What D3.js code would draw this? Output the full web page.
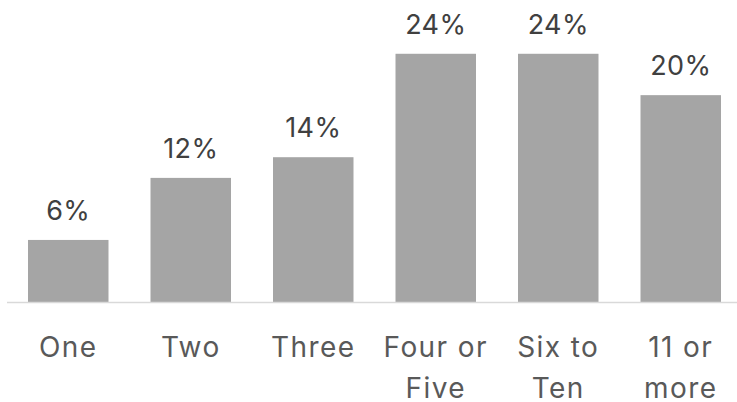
<!DOCTYPE html>
<html>
<head>
<meta charset="utf-8">
<script src="https://cdn.jsdelivr.net/npm/d3@7"></script>
<style>
  html, body { margin: 0; padding: 0; background: #fff; }
  svg { display: block; }
  text { font-family: Inter, "Noto Sans", sans-serif; }
</style>
</head>
<body>
<svg id="chart" width="737" height="402"></svg>
<script>
// Share of respondents by count group
const categories = ["One", "Two", "Three", "Four or Five", "Six to Ten", "11 or more"];
const categoryLines = [["One"], ["Two"], ["Three"], ["Four or", "Five"], ["Six to", "Ten"], ["11 or", "more"]];
const values = [6, 12, 14, 24, 24, 20];

const width = 737, height = 402;
const baseline = 302;

const svg = d3.select("#chart");

const x = d3.scaleBand()
  .domain(categories)
  .range([7, 742])
  .paddingInner(0.343)
  .paddingOuter(0.1715);

const y = d3.scaleLinear()
  .domain([0, 29.2])
  .range([baseline, 0]);

// bars
svg.append("g")
  .selectAll("rect")
  .data(values)
  .join("rect")
  .attr("x", (d, i) => x(categories[i]))
  .attr("width", x.bandwidth())
  .attr("y", d => y(d))
  .attr("height", d => y(0) - y(d))
  .attr("fill", "#a5a5a5");

// baseline axis
svg.append("line")
  .attr("x1", 7).attr("x2", 737)
  .attr("y1", baseline + 0.5).attr("y2", baseline + 0.5)
  .attr("stroke", "#d9d9d9")
  .attr("stroke-width", 1.5);

// value labels
svg.append("g")
  .selectAll("text")
  .data(values)
  .join("text")
  .attr("x", (d, i) => x(categories[i]) + x.bandwidth() / 2)
  .attr("y", d => y(d) - 20)
  .attr("text-anchor", "middle")
  .attr("font-size", 27)
  .attr("letter-spacing", 0.4)
  .attr("fill", "#404040")
  .text(d => d + "%");

// category labels
const cat = svg.append("g")
  .selectAll("text")
  .data(categories)
  .join("text")
  .attr("x", d => x(d) + x.bandwidth() / 2)
  .attr("y", 357)
  .attr("text-anchor", "middle")
  .attr("font-size", 28)
  .attr("letter-spacing", 1.4)
  .attr("fill", "#595959");

cat.each(function(d, i) {
  const t = d3.select(this);
  categoryLines[i].forEach((line, j) => {
    t.append("tspan")
      .attr("x", x(d) + x.bandwidth() / 2)
      .attr("dy", j === 0 ? 0 : 41)
      .text(line);
  });
});
</script>
</body>
</html>
